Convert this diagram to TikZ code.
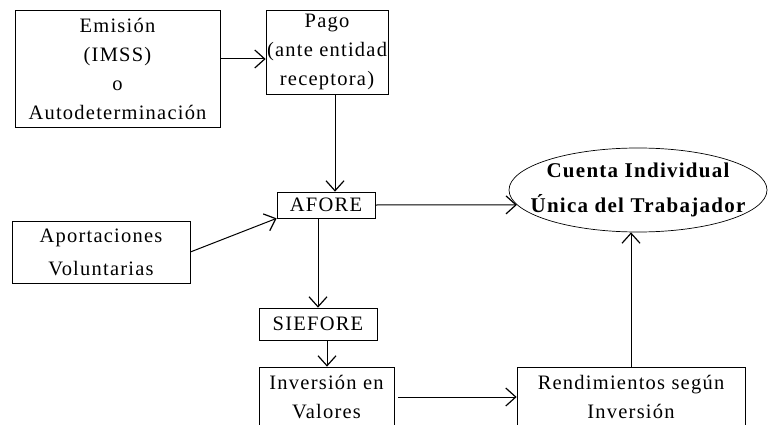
\documentclass[tikz,border=0pt]{standalone}
\usepackage{fontspec}
\setmainfont[LetterSpace=6]{Liberation Serif}
\usetikzlibrary{arrows.meta,shapes.geometric}

\begin{document}
\begin{tikzpicture}[x=1pt,y=-1pt,
        box/.style={draw,line width=0.7pt,inner sep=0pt,align=center,font=\fontsize{20.5}{29}\selectfont},
        arr/.style={line width=1pt,-{Straight Barb[length=10pt,width=18pt,line width=1.2pt]}}]
        \useasboundingbox (0,0) rectangle (770,425);
        %% Boxes
        \node[box,minimum width=205,minimum height=117] (emision) at (117.5,68.5) {Emisión\\(IMSS)\\o\\Autodeterminación};
        \node[box,minimum width=122,minimum height=84] (pago) at (327,52) {Pago\\(ante entidad\\receptora)};
        \node[box,minimum width=98,minimum height=26] (afore) at (326,205) {AFORE};
        \node[box,minimum width=178,minimum height=62] (aport) at (101,252) {Aportaciones\\[4pt]Voluntarias};
        \node[box,minimum width=118,minimum height=32] (siefore) at (318,324) {SIEFORE};
        \node[box,minimum width=135,minimum height=60] (inversion) at (326.5,397) {Inversión en\\Valores};
        \node[box,minimum width=228,minimum height=60] (rend) at (631,397) {Rendimientos según\\Inversión};
        \node[box,ellipse,inner xsep=-25pt,inner ysep=-2pt,minimum width=258,minimum height=84,font=\fontsize{21}{29}\selectfont\bfseries] (cuenta) at (638,190) {Cuenta Individual\\[6pt]Única del Trabajador};
        %% Arrows
        \draw[arr] ([yshift=9.5pt]emision.east) -- ([yshift=9.5pt]emision.east -| pago.west);
        \draw[arr] ([xshift=8pt]pago.south) -- ([xshift=8pt]pago.south |- afore.north);
        \draw[arr] (afore.east) -- (cuenta.187);
        \draw[arr] (aport.east) -- (afore.south west);
        \draw[arr] ([xshift=-8pt]afore.south) -- (siefore.north);
        \draw[arr] ([xshift=9pt]siefore.south) -- ([xshift=9pt]siefore.south |- inversion.north);
        \draw[arr,shorten <=4pt] (inversion.east) -- (rend.west);
        \draw[arr] (rend.north) -- (rend.north |- cuenta.south);
    \end{tikzpicture}
\end{document}
